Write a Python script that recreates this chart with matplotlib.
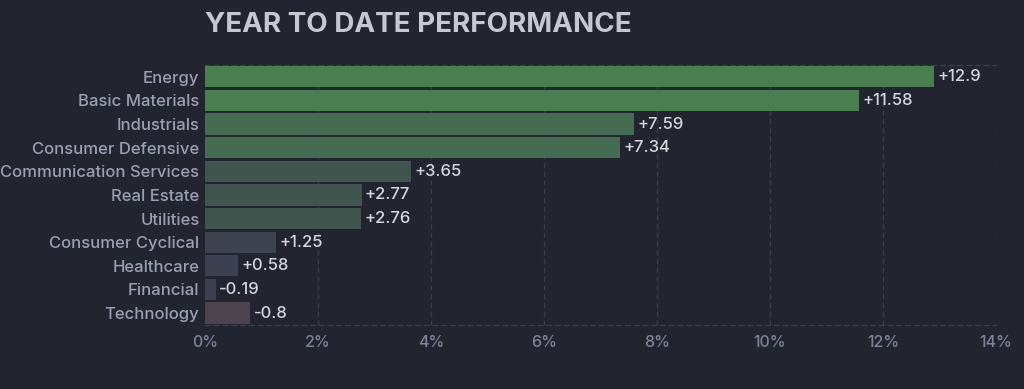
import numpy as np
import matplotlib.pyplot as plt

sectors = ['Energy', 'Basic Materials', 'Industrials', 'Consumer Defensive',
           'Communication Services', 'Real Estate', 'Utilities',
           'Consumer Cyclical', 'Healthcare', 'Financial', 'Technology']
ytd = [12.9, 11.58, 7.59, 7.34, 3.65, 2.77, 2.76, 1.25, 0.58, -0.19, -0.8]
bar_colors = ['#4a7e51', '#4a7e51', '#466b53', '#466b53', '#41554f', '#41554f',
              '#41554f', '#3d434f', '#3d4050', '#3d4050', '#4d434f']
xticks = [0, 2, 4, 6, 8, 10, 12, 14]

bg = '#22252f'
plt.rcParams['font.family'] = ['Inter', 'DejaVu Sans']

fig = plt.figure(figsize=(10.24, 3.89), dpi=100, facecolor=bg)
ax = fig.add_axes([0.2002, 0.165, 0.7725, 0.668], facecolor=bg)

y = np.arange(len(sectors))
ax.barh(y, np.abs(ytd), height=0.9, color=bar_colors, zorder=3)

for i, v in enumerate(ytd):
    txt = ('+' if v > 0 else '') + ('%g' % v)
    ax.annotate(txt, (abs(v), i), xytext=(2.5, 0), textcoords='offset points',
                va='center', ha='left', fontsize=12, fontweight='medium',
                color='#d6d7dc', zorder=4)

ax.set_ylim(len(sectors) - 0.5, -0.5)
ax.set_xlim(0, 14)
ax.set_yticks(y)
ax.set_yticklabels(sectors, fontsize=12, fontweight='medium', color='#9a9fb4')
ax.set_xticks(xticks)
ax.set_xticklabels(['%d%%' % t for t in xticks], fontsize=11.5,
                   fontweight='medium', color='#7d8298')
ax.tick_params(axis='y', length=0, pad=4)
ax.tick_params(axis='x', length=0, pad=7)

for t in xticks[1:]:
    ax.axvline(t, color='#3b3e4c', lw=0.9, ls=(0, (4, 3)), zorder=1)
for s in ['left', 'right']:
    ax.spines[s].set_visible(False)
for s in ['top', 'bottom']:
    ax.spines[s].set_color('#3b3e4c')
    ax.spines[s].set_linestyle((0, (4, 3)))
    ax.spines[s].set_linewidth(0.9)

fig.text(0.2002, 1 - 25 / 389, 'YEAR TO DATE PERFORMANCE', fontsize=20,
         fontweight='bold', color='#c6c8d0', ha='left', va='center')

fig.savefig('out.png', dpi=100, facecolor=bg)
